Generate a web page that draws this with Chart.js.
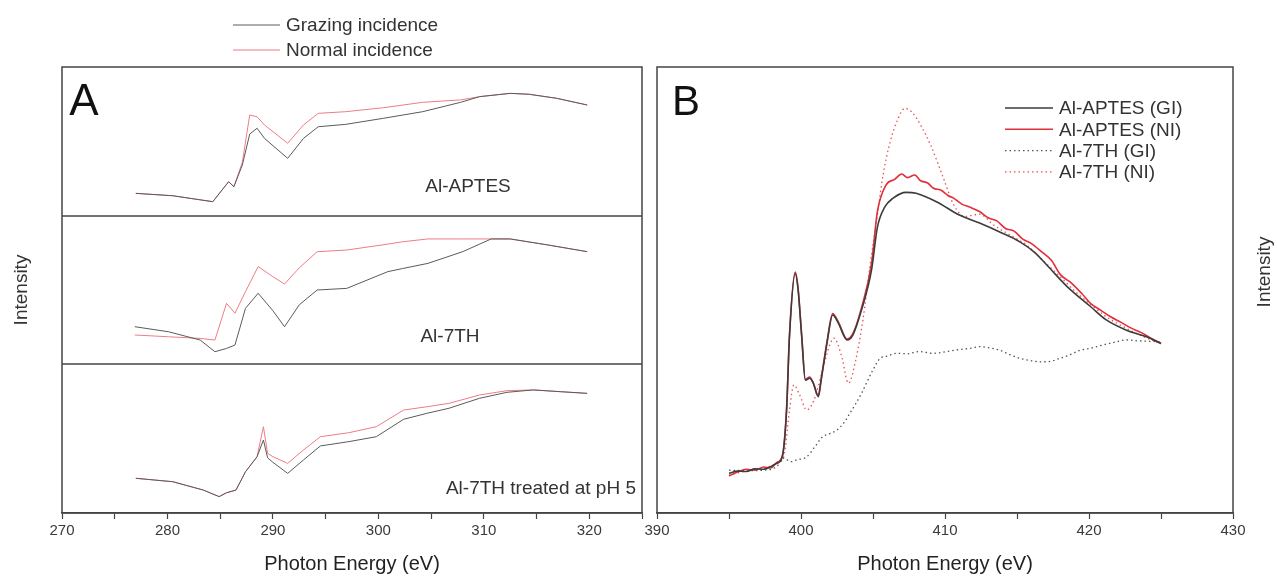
<!DOCTYPE html>
<html>
<head>
<meta charset="utf-8">
<script src="https://cdn.jsdelivr.net/npm/chart.js@4.4.0/dist/chart.umd.min.js"></script>
<style>
  body { margin: 0; background: #fff; width: 1277px; height: 586px; overflow: hidden; position: relative; }
  canvas { position: absolute; }
</style>
</head>
<body>
<canvas id="a1" width="650" height="216" style="left:0px;top:0px"></canvas>
<canvas id="a2" width="650" height="148" style="left:0px;top:216px"></canvas>
<canvas id="a3" width="650" height="222" style="left:0px;top:364px"></canvas>
<canvas id="b" width="637" height="586" style="left:640px;top:0px"></canvas>
<script>
// ---- panel A : carbon K-edge, three samples, grazing vs normal incidence ----
const aptesE  = [277.0, 280.5, 284.3, 285.8, 286.3, 287.1, 287.8, 288.5, 289.2, 291.4, 292.9, 294.3, 296.9, 300.5, 304.2, 307.8, 309.6, 312.5, 314.3, 316.9, 319.8];
const aptesGI = [0.152, 0.136, 0.096, 0.230, 0.197, 0.342, 0.550, 0.589, 0.521, 0.387, 0.521, 0.599, 0.615, 0.656, 0.700, 0.763, 0.801, 0.823, 0.817, 0.790, 0.745];
const aptesNI = [0.152, 0.136, 0.096, 0.230, 0.197, 0.360, 0.678, 0.666, 0.611, 0.488, 0.611, 0.689, 0.700, 0.727, 0.763, 0.779, 0.801, 0.823, 0.817, 0.790, 0.745];

const th7E  = [276.9, 280.1, 283.1, 284.5, 285.6, 286.4, 287.4, 288.6, 290.0, 291.1, 292.5, 294.2, 297.0, 300.9, 302.3, 304.7, 308.0, 310.7, 312.5, 316.1, 319.8];
const th7GI = [0.252, 0.218, 0.162, 0.083, 0.105, 0.128, 0.376, 0.478, 0.360, 0.252, 0.400, 0.500, 0.511, 0.624, 0.645, 0.680, 0.759, 0.845, 0.845, 0.804, 0.759];
const th7NI = [0.196, 0.184, 0.173, 0.162, 0.410, 0.343, 0.489, 0.658, 0.590, 0.540, 0.650, 0.759, 0.770, 0.810, 0.826, 0.845, 0.845, 0.845, 0.845, 0.804, 0.759];

const ph5E  = [277.0, 280.5, 283.4, 284.9, 285.6, 286.5, 287.4, 288.5, 289.1, 289.5, 290.0, 291.4, 292.9, 294.5, 297.2, 299.8, 302.4, 304.6, 306.7, 309.6, 312.2, 314.7, 317.3, 319.8];
const ph5GI = [0.233, 0.210, 0.154, 0.110, 0.136, 0.154, 0.277, 0.378, 0.490, 0.370, 0.340, 0.266, 0.356, 0.450, 0.479, 0.512, 0.629, 0.669, 0.703, 0.770, 0.810, 0.826, 0.814, 0.803];
const ph5NI = [0.233, 0.210, 0.154, 0.110, 0.136, 0.154, 0.277, 0.378, 0.579, 0.400, 0.378, 0.333, 0.423, 0.512, 0.539, 0.579, 0.691, 0.713, 0.736, 0.792, 0.821, 0.826, 0.814, 0.803];

const aTicks = [270, 280, 290, 300, 310, 320];

// ---- panel B : nitrogen K-edge ----
const bAptesGiE = [395.0, 395.6, 396.2, 396.8, 397.4, 397.9, 398.3, 398.7, 399.0, 399.2, 399.6, 399.8, 400.05, 400.3, 400.6, 400.85, 401.2, 401.4, 401.8, 402.2, 402.6, 403.2, 403.6, 404.2, 404.9, 405.3, 405.8, 406.4, 407.3, 408.0, 409.4, 411.0, 412.4, 413.8, 415.2, 416.2, 417.1, 418.5, 420.1, 421.2, 422.6, 424.0, 425.0];
const bAptesGi  = [0.089, 0.094, 0.093, 0.099, 0.098, 0.104, 0.111, 0.126, 0.231, 0.395, 0.537, 0.500, 0.395, 0.298, 0.302, 0.291, 0.261, 0.298, 0.380, 0.444, 0.425, 0.388, 0.399, 0.455, 0.545, 0.640, 0.685, 0.706, 0.719, 0.717, 0.698, 0.668, 0.650, 0.630, 0.608, 0.585, 0.555, 0.507, 0.463, 0.433, 0.410, 0.395, 0.380];

const bAptesNiE = [395.0, 395.6, 396.2, 396.8, 397.4, 397.9, 398.3, 398.7, 399.0, 399.2, 399.6, 399.8, 400.05, 400.3, 400.6, 400.85, 401.2, 401.4, 401.8, 402.2, 402.6, 403.2, 403.6, 404.2, 404.9, 405.3, 405.9, 406.5, 407.0, 407.4, 407.9, 408.3, 408.8, 409.2, 409.7, 410.2, 410.6, 411.2, 411.7, 412.4, 413.0, 413.6, 414.2, 414.8, 415.4, 416.0, 416.7, 417.4, 418.0, 418.8, 419.5, 420.1, 420.8, 421.5, 422.2, 422.9, 423.6, 424.3, 425.0];
const bAptesNi  = [0.083, 0.092, 0.098, 0.096, 0.103, 0.101, 0.113, 0.128, 0.235, 0.400, 0.540, 0.503, 0.398, 0.300, 0.305, 0.292, 0.263, 0.300, 0.383, 0.447, 0.428, 0.390, 0.402, 0.460, 0.560, 0.675, 0.735, 0.748, 0.760, 0.752, 0.758, 0.745, 0.740, 0.728, 0.724, 0.712, 0.706, 0.692, 0.686, 0.676, 0.662, 0.655, 0.638, 0.632, 0.614, 0.604, 0.586, 0.566, 0.535, 0.515, 0.492, 0.470, 0.455, 0.440, 0.428, 0.415, 0.405, 0.392, 0.380];

const b7thGiE = [395.0, 396.2, 397.4, 398.3, 398.8, 399.3, 399.7, 400.4, 401.0, 401.5, 402.0, 402.5, 403.0, 403.4, 403.8, 404.2, 404.6, 405.0, 405.5, 406.0, 406.6, 407.4, 408.2, 409.2, 410.1, 410.9, 411.7, 412.4, 413.1, 413.8, 414.5, 415.2, 415.9, 416.6, 417.3, 418.0, 418.7, 419.4, 420.2, 421.0, 421.8, 422.6, 423.4, 424.2, 425.0];
const b7thGi  = [0.096, 0.095, 0.096, 0.104, 0.123, 0.115, 0.119, 0.126, 0.150, 0.171, 0.178, 0.186, 0.203, 0.224, 0.245, 0.268, 0.295, 0.321, 0.347, 0.352, 0.358, 0.357, 0.362, 0.358, 0.362, 0.366, 0.369, 0.373, 0.370, 0.365, 0.355, 0.347, 0.342, 0.339, 0.340, 0.347, 0.355, 0.365, 0.370, 0.377, 0.383, 0.388, 0.386, 0.385, 0.384];

const b7thNiE = [395.0, 396.2, 397.4, 398.3, 398.8, 399.2, 399.5, 399.9, 400.4, 400.9, 401.5, 402.0, 402.3, 402.8, 403.3, 403.8, 404.3, 404.8, 405.3, 405.7, 406.2, 406.7, 407.2, 407.7, 408.3, 409.0, 409.9, 410.6, 411.4, 412.4, 413.4, 414.6, 415.7, 417.0, 418.0, 419.1, 420.1, 421.2, 422.6, 423.8, 425.0];
const b7thNi  = [0.085, 0.094, 0.100, 0.111, 0.126, 0.230, 0.287, 0.265, 0.231, 0.253, 0.321, 0.377, 0.392, 0.354, 0.291, 0.343, 0.433, 0.556, 0.668, 0.758, 0.833, 0.881, 0.907, 0.899, 0.870, 0.825, 0.750, 0.691, 0.665, 0.670, 0.645, 0.622, 0.600, 0.560, 0.530, 0.495, 0.468, 0.440, 0.414, 0.395, 0.380];

const bTicks = [390, 400, 410, 420, 430];

const FONT = "'Liberation Sans', Arial, sans-serif";
Chart.defaults.font.family = FONT;
Chart.defaults.color = '#333';

const pts = (xs, ys) => xs.map((x, i) => ({ x: x, y: ys[i] }));

// box round each plot area
const frame = {
  id: 'frame',
  afterDatasetsDraw(chart) {
    const { ctx, chartArea: a } = chart;
    ctx.save();
    ctx.strokeStyle = '#444';
    ctx.lineWidth = 1.5;
    ctx.strokeRect(a.left, a.top, a.right - a.left, a.bottom - a.top);
    ctx.restore();
  }
};

// free text: panel letters, sample names, y titles
const notes = {
  id: 'notes',
  afterDraw(chart, args, opts) {
    const ctx = chart.ctx;
    (opts.items || []).forEach(t => {
      ctx.save();
      ctx.translate(t.x, t.y);
      if (t.rot) ctx.rotate(t.rot);
      ctx.font = t.font;
      ctx.fillStyle = t.color || '#333';
      ctx.textAlign = t.align || 'center';
      ctx.textBaseline = 'middle';
      ctx.fillText(t.text, 0, 0);
      ctx.restore();
    });
  }
};

// stacked legend drawn from the datasets
const keyBox = {
  id: 'keyBox',
  afterDraw(chart, args, opts) {
    if (!opts.show) return;
    const ctx = chart.ctx;
    chart.data.datasets.forEach((d, i) => {
      const y = opts.y + i * opts.gap;
      ctx.save();
      ctx.strokeStyle = d.borderColor;
      ctx.lineWidth = d.borderWidth;
      ctx.setLineDash(d.borderDash || []);
      ctx.beginPath();
      ctx.moveTo(opts.x, y);
      ctx.lineTo(opts.x + opts.len, y);
      ctx.stroke();
      ctx.setLineDash([]);
      ctx.font = opts.font;
      ctx.fillStyle = '#333';
      ctx.textAlign = 'left';
      ctx.textBaseline = 'middle';
      ctx.fillText(d.label, opts.x + opts.len + 6, y + 1);
      ctx.restore();
    });
  }
};

function xAxis(min, max, ticks, shown) {
  return {
    type: 'linear', min: min, max: max, display: shown,
    afterFit: s => { s.height = shown ? 73 : 0; },
    afterBuildTicks: s => {
      const t = [];
      for (let v = min; v <= max; v += 5) t.push({ value: v });
      s.ticks = t;
    },
    ticks: {
      autoSkip: false, maxRotation: 0, color: '#3a3a3a', font: { size: 15 }, padding: 3,
      callback: v => ticks.includes(v) ? String(v) : ''
    },
    grid: { drawOnChartArea: false, tickLength: 6, color: '#444', tickWidth: 1.2 },
    border: { color: '#444', width: 1.5 },
    title: { display: shown, text: 'Photon Energy (eV)', color: '#222', font: { size: 20 }, padding: { top: 0, bottom: 10 } }
  };
}

function panelA(id, e, gi, ni, pad, showAxis, extra) {
  return new Chart(document.getElementById(id), {
    type: 'line',
    data: {
      datasets: [
        { label: 'Grazing incidence', data: pts(e, gi), borderColor: '#5a5a5a', borderWidth: 1 },
        { label: 'Normal incidence', data: pts(e, ni), borderColor: '#ec7d86', borderWidth: 1 }
      ]
    },
    options: {
      responsive: false, animation: false,
      layout: { padding: pad },
      elements: { point: { radius: 0 }, line: { tension: 0 } },
      scales: {
        x: xAxis(270, 325, aTicks, showAxis),
        y: { display: false, min: 0, max: 1 }
      },
      plugins: Object.assign({ legend: { display: false }, tooltip: { enabled: false } }, extra)
    },
    plugins: [frame, notes, keyBox]
  });
}

panelA('a1', aptesE, aptesGI, aptesNI, { top: 67, left: 62, right: 8, bottom: 0 }, false, {
  keyBox: { show: true, x: 233, y: 25, gap: 25, len: 47, font: '19px ' + FONT },
  notes: { items: [
    { text: 'A', x: 84, y: 103, font: '44px ' + FONT, color: '#111' },
    { text: 'Al-APTES', x: 468, y: 187, font: '19px ' + FONT }
  ] }
});

panelA('a2', th7E, th7GI, th7NI, { top: 0, left: 62, right: 8, bottom: 0 }, false, {
  notes: { items: [
    { text: 'Al-7TH', x: 450, y: 121, font: '19px ' + FONT },
    { text: 'Intensity', x: 22, y: 74, rot: -Math.PI / 2, font: '19px ' + FONT }
  ] }
});

panelA('a3', ph5E, ph5GI, ph5NI, { top: 0, left: 62, right: 8, bottom: 0 }, true, {
  notes: { items: [
    { text: 'Al-7TH treated at pH 5', x: 636, y: 125, align: 'right', font: '19px ' + FONT }
  ] }
});

new Chart(document.getElementById('b'), {
  type: 'line',
  data: {
    datasets: [
      { label: 'Al-APTES (GI)', data: pts(bAptesGiE, bAptesGi), borderColor: '#3c3c3c', borderWidth: 1.6 },
      { label: 'Al-APTES (NI)', data: pts(bAptesNiE, bAptesNi), borderColor: '#e0303a', borderWidth: 1.6 },
      { label: 'Al-7TH (GI)', data: pts(b7thGiE, b7thGi), borderColor: '#555', borderWidth: 1.3, borderDash: [1.5, 3] },
      { label: 'Al-7TH (NI)', data: pts(b7thNiE, b7thNi), borderColor: '#e8505a', borderWidth: 1.3, borderDash: [1.5, 3] }
    ]
  },
  options: {
    responsive: false, animation: false,
    layout: { padding: { top: 67, left: 17, right: 44, bottom: 0 } },
    elements: { point: { radius: 0 }, line: { tension: 0.3, cubicInterpolationMode: 'monotone' } },
    scales: {
      x: xAxis(390, 430, bTicks, true),
      y: { display: false, min: 0, max: 1 }
    },
    plugins: {
      legend: { display: false }, tooltip: { enabled: false },
      keyBox: { show: true, x: 365, y: 108, gap: 21.3, len: 48, font: '19px ' + FONT },
      notes: { items: [
        { text: 'B', x: 46, y: 103, font: '42px ' + FONT, color: '#111' },
        { text: 'Intensity', x: 625, y: 272, rot: -Math.PI / 2, font: '19px ' + FONT }
      ] }
    }
  },
  plugins: [frame, notes, keyBox]
});
</script>
</body>
</html>
